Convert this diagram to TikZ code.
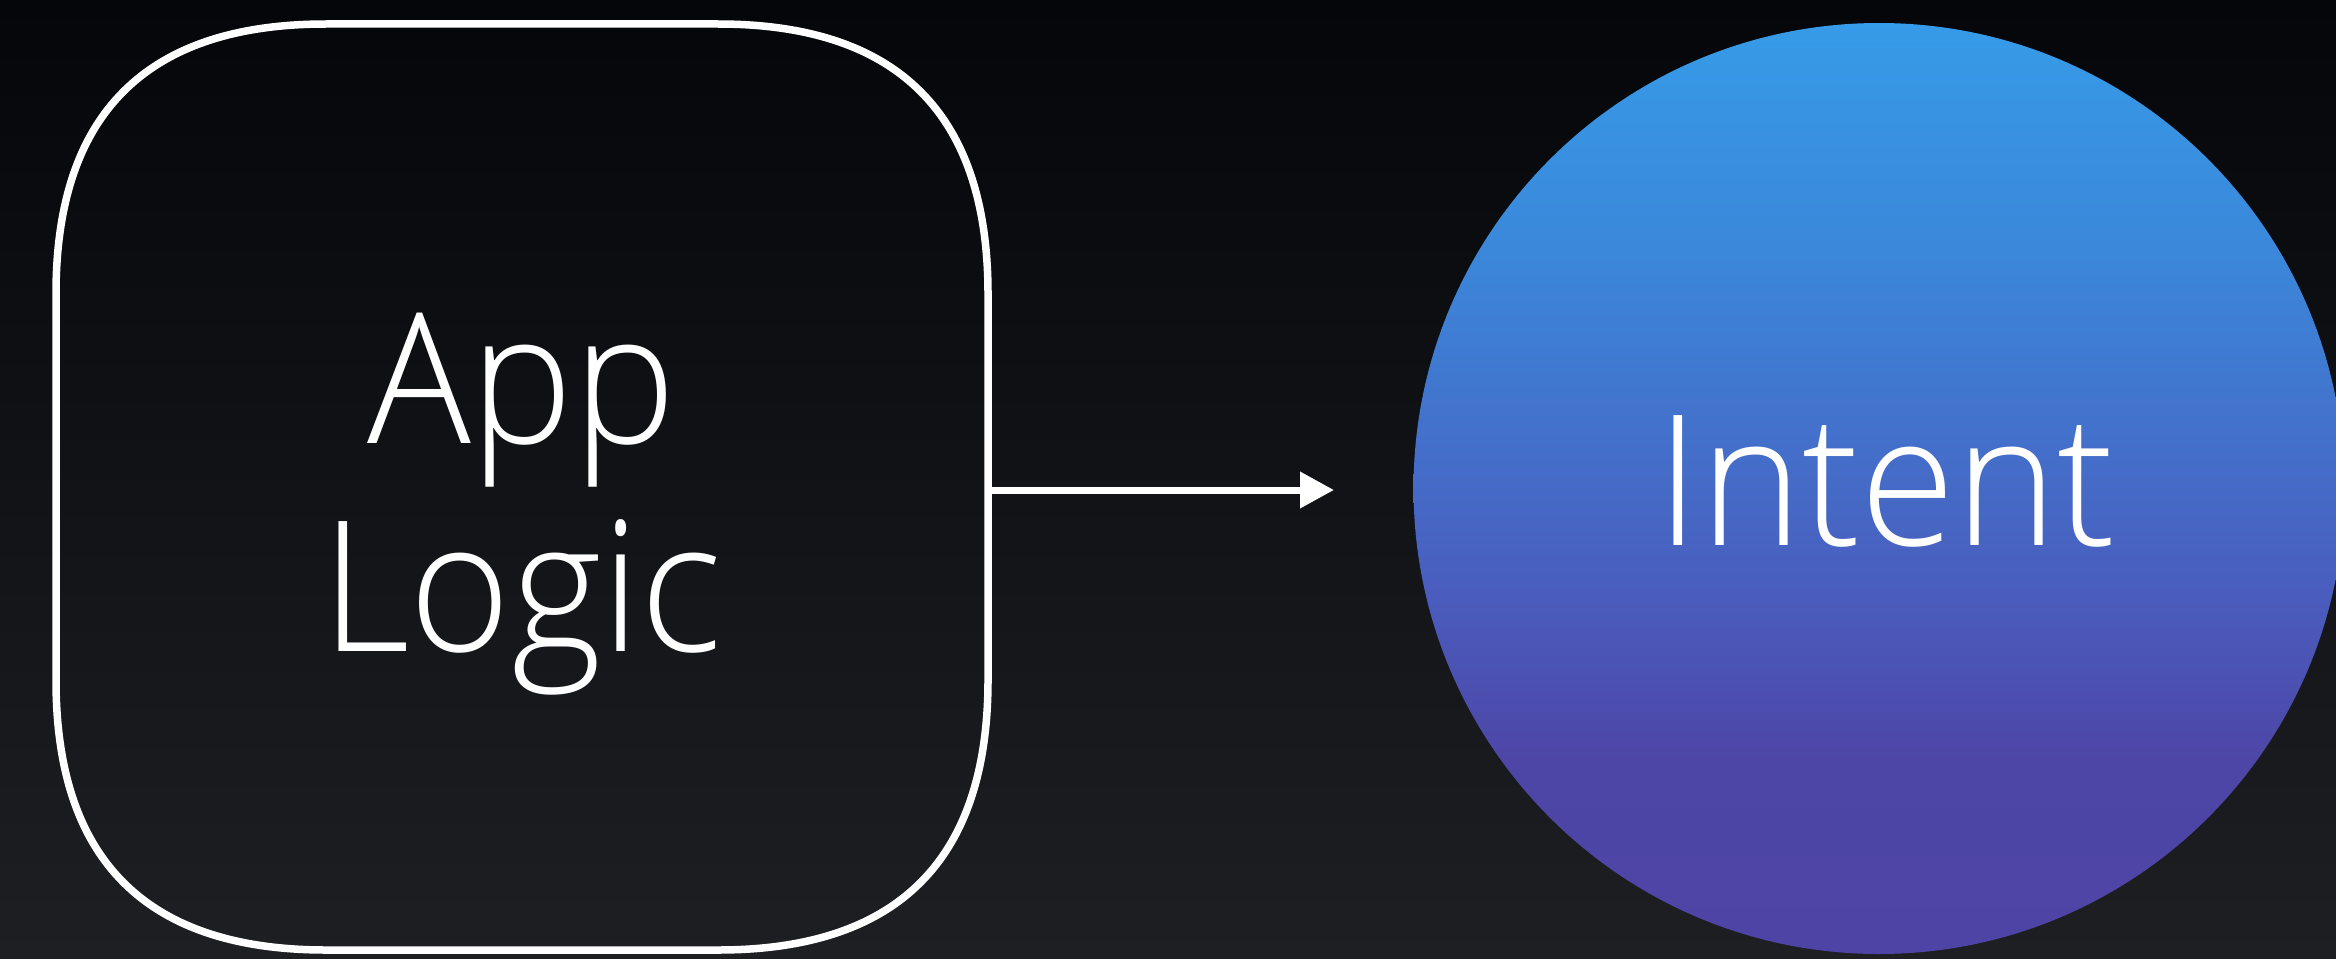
\documentclass[tikz,border=0pt]{standalone}
\usepackage{fontspec}
\setmainfont{Open Sans}[UprightFont=* Light, FakeStretch=0.95]
\usetikzlibrary{arrows.meta,calc}

\definecolor{bgtop}{RGB}{5,6,9}
\definecolor{bgbottom}{RGB}{30,31,35}
\definecolor{orbA}{RGB}{54,155,232}
\definecolor{orbB}{RGB}{59,135,218}
\definecolor{orbC}{RGB}{74,92,189}
\definecolor{orbD}{RGB}{77,70,167}
\definecolor{orbE}{RGB}{78,68,165}

\pgfdeclareverticalshading{orb}{100bp}{%
  color(0bp)=(orbE); color(25bp)=(orbE); color(35.5bp)=(orbD);
  color(44bp)=(orbC); color(62.5bp)=(orbB); color(75bp)=(orbA);
  color(100bp)=(orbA)}

\tikzset{
  outline/.style={draw=white, line width=7.5pt, line join=round},
  label text/.style={text=white, font=\fontsize{182}{208}\selectfont,
    align=center, inner sep=0pt, outer sep=0pt},
  flow/.style={draw=white, line width=7pt,
    -{Triangle[length=34pt, width=35pt]}},
}

\begin{document}
\begin{tikzpicture}[x=1pt, y=-1pt]
  \useasboundingbox (0,0) rectangle (2336,958);
  \clip (0,0) rectangle (2336,958);

  % dark backdrop
  \fill[top color=bgtop, bottom color=bgbottom] (0,0) rectangle (2336,958);

  % rounded "App Logic" box
  \node[minimum width=932pt, minimum height=926pt, inner sep=0pt,
        outer sep=0pt] (applogic) at (522,487) {};
  \node[label text] (applogictext) at (522,504) {App\\Logic};
  \draw[outline]
    (56,294) .. controls (56,114) and (146,24) .. (326,24) -- (718,24)
    .. controls (898,24) and (988,114) .. (988,294) -- (988,680)
    .. controls (988,860) and (898,950) .. (718,950) -- (326,950)
    .. controls (146,950) and (56,860) .. (56,680) -- cycle;

  % gradient "Intent" disc
  \node[circle, minimum size=931pt, inner sep=0pt, shading=orb,
        label={[label text, xshift=7pt, yshift=7.5pt]center:Intent}]
    (intent) at (1879,488.5) {};

  % connector
  \coordinate (tip) at (1334,490);
  \draw[flow] (applogic.east |- tip) -- (tip);
\end{tikzpicture}
\end{document}
